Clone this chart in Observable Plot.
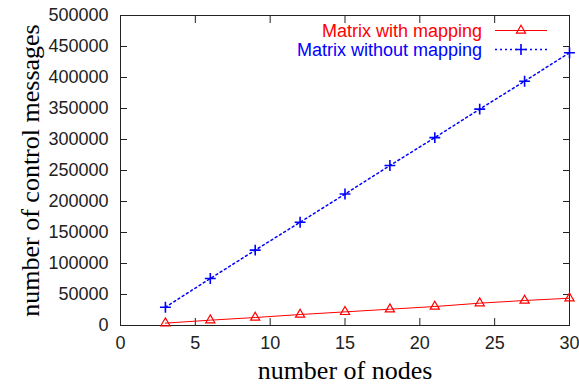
<!DOCTYPE html>
<html>
<head>
<meta charset="utf-8">
<script src="https://cdn.jsdelivr.net/npm/d3@7"></script>
<script src="https://cdn.jsdelivr.net/npm/@observablehq/plot@0.6"></script>
<style>
  html, body { margin: 0; padding: 0; background: #fff; }
  #chart { width: 579px; height: 385px; }
</style>
</head>
<body>
<div id="chart"></div>
<script>
const nodes = [3, 6, 9, 12, 15, 18, 21, 24, 27, 30];
const withMapping = [3800, 8600, 12900, 17700, 22000, 26300, 30600, 36000, 40300, 44000];
const withoutMapping = [29500, 75800, 121500, 166500, 212000, 258000, 303000, 349000, 394000, 440000];
const xTicks = [0, 5, 10, 15, 20, 25, 30];
const yTicks = [0, 50000, 100000, 150000, 200000, 250000, 300000, 350000, 400000, 450000, 500000];
const seriesNames = ["Matrix with mapping", "Matrix without mapping"];
const xLabel = "number of nodes";
const yLabel = "number of control messages";

const red = nodes.map((n, i) => ({x: n, y: withMapping[i]}));
const blue = nodes.map((n, i) => ({x: n, y: withoutMapping[i]}));

const sans = "'Liberation Sans', Arial, Helvetica, sans-serif";
const serif = "'Liberation Serif', 'Times New Roman', serif";
const axisColor = "#222";

const chart = Plot.plot({
  width: 579,
  height: 385,
  marginLeft: 120,
  marginRight: 10,
  marginTop: 15,
  marginBottom: 60,
  style: {fontFamily: sans, fontSize: "18px", color: axisColor, background: "#fff"},
  x: {domain: [0, 30]},
  y: {domain: [0, 500000]},
  marks: [
    // labels
    Plot.axisX(xTicks, {tickSize: 0, tickPadding: 11, label: null, fontSize: 18, tickFormat: d => String(d)}),
    Plot.axisY(yTicks, {tickSize: 0, tickPadding: 12, label: null, fontSize: 18, tickFormat: d => String(d)}),
    // inward mirror ticks
    Plot.axisX(xTicks, {anchor: "bottom", tickSize: -7, tickFormat: () => "", label: null, stroke: axisColor}),
    Plot.axisX(xTicks, {anchor: "top", tickSize: -7, tickFormat: () => "", label: null, stroke: axisColor}),
    Plot.axisY(yTicks, {anchor: "left", tickSize: -7, tickFormat: () => "", label: null, stroke: axisColor}),
    Plot.axisY(yTicks, {anchor: "right", tickSize: -7, tickFormat: () => "", label: null, stroke: axisColor}),
    Plot.frame({stroke: axisColor, strokeWidth: 1}),
    // series
    Plot.line(red, {x: "x", y: "y", stroke: "#ff0000", strokeWidth: 1}),
    Plot.dot(red, {x: "x", y: "y", symbol: "triangle", r: 3.4, stroke: "#ff0000", fill: "none", strokeWidth: 1.2}),
    Plot.line(blue, {x: "x", y: "y", stroke: "#0000ff", strokeWidth: 1.5, strokeDasharray: "2,3"}),
    Plot.dot(blue, {x: "x", y: "y", symbol: "plus", r: 3.6, stroke: "#0000ff", strokeWidth: 1.6}),
    // axis titles
    Plot.text([xLabel], {frameAnchor: "bottom", dy: 53, lineAnchor: "bottom", fontFamily: serif, fontSize: 26, fill: "#000"}),
    Plot.text([yLabel], {frameAnchor: "left", dx: -90, rotate: -90, textAnchor: "middle", lineAnchor: "middle", fontFamily: serif, fontSize: 26, fill: "#000"})
  ]
});
document.getElementById("chart").appendChild(chart);

// legend inside the plot area (top-right)
const svg = d3.select(chart);
const lg = svg.append("g").attr("font-family", sans).attr("font-size", 18);
const rows = [
  {name: seriesNames[0], color: "#ff0000", y: 30.5, dash: null, sym: "triangle"},
  {name: seriesNames[1], color: "#0000ff", y: 49.5, dash: "2,3", sym: "plus"}
];
rows.forEach(r => {
  lg.append("text").attr("x", 482).attr("y", r.y).attr("dy", "0.35em")
    .attr("text-anchor", "end").attr("fill", r.color).text(r.name);
  lg.append("line").attr("x1", 495).attr("x2", 547).attr("y1", r.y).attr("y2", r.y)
    .attr("stroke", r.color).attr("stroke-width", r.dash ? 1.5 : 1)
    .attr("stroke-dasharray", r.dash);
  if (r.sym === "triangle") {
    lg.append("path").attr("transform", `translate(521,${r.y})`)
      .attr("d", d3.symbol(d3.symbolTriangle, 3.4 * 3.4 * Math.PI)())
      .attr("fill", "none").attr("stroke", r.color).attr("stroke-width", 1.2);
  } else {
    lg.append("path").attr("transform", `translate(521,${r.y})`)
      .attr("d", d3.symbol(d3.symbolPlus, 3.6 * 3.6 * Math.PI)())
      .attr("fill", "none").attr("stroke", r.color).attr("stroke-width", 1.6);
  }
});
</script>
</body>
</html>
